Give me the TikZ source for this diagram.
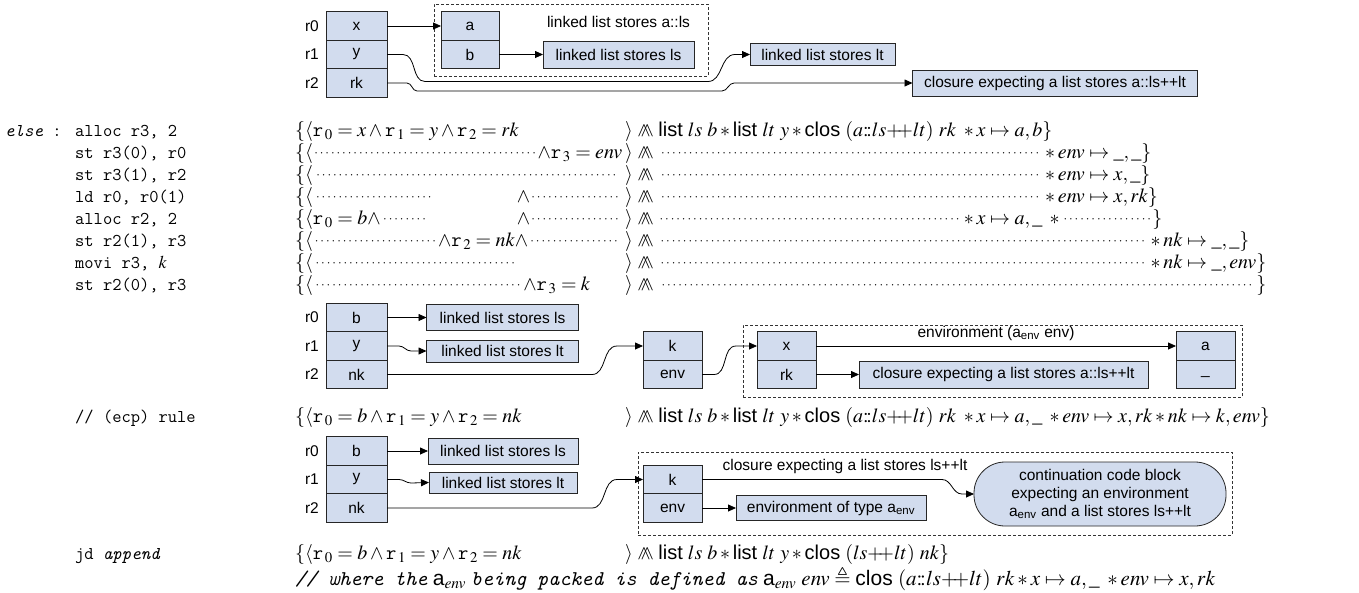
\documentclass[tikz,border=0pt]{standalone}
\usepackage{mathptmx}
\usepackage{amssymb}
\usepackage[no-math]{fontspec}
\setmainfont{Liberation Serif}
\setsansfont{Liberation Sans}
\usetikzlibrary{arrows.meta, positioning}

\definecolor{cellblue}{RGB}{210,220,238}
\newcommand\rg[1]{\mbox{\ttfamily r}\mkern1.5mu{}_{#1}}
\newcommand\dotfil{\cleaders\hbox to 5.6pt{\hss\raisebox{2pt}{\fontsize{13}{13}\selectfont$\cdot$}\hss}\hfill}
\newcommand\dotsof[1]{\mathord{\setbox0\hbox{$#1$}\hbox to\wd0{\dotfil}}}
\newcommand\sepc{\mathrel{\wedge\mkern-9mu\wedge}}
\newcommand\lst{\textsf{list}}
\newcommand\cls{\textsf{clos}}
\newcommand\cons{{:}\!{:}}
\newcommand\app{{+}\!\!{+}}
\newcommand\heap{\lst\ ls\ b \ast \lst\ lt\ y \ast \cls\ (a\cons ls\app lt)\ rk\ }

\tikzset{
  cell/.style={draw=black!85, fill=cellblue, line width=0.8pt, minimum width=61pt,
    minimum height=28.5pt, inner sep=0pt, outer sep=0pt, font=\sffamily\fontsize{15.5}{18}\selectfont},
  rlab/.style={inner sep=0pt, font=\sffamily\fontsize{15.5}{18}\selectfont},
  txt/.style={inner sep=0pt, font=\sffamily\fontsize{15.5}{18}\selectfont},
  grp/.style={draw=black!80, line width=0.8pt, dash pattern=on 3pt off 2pt, inner sep=0pt},
  conn/.style={draw, line width=0.8pt, -{Triangle[length=8pt,width=7pt]}},
  code/.style={anchor=base west, inner sep=0pt, text height=12pt, text depth=3pt, font=\ttfamily\fontsize{18}{22}\selectfont},
  asrt/.style={anchor=base west, inner sep=0pt, text height=14pt, text depth=4pt, font=\fontsize{20}{22}\selectfont}
}

\begin{document}
\begin{tikzpicture}[x=1pt, y=-1pt]
\useasboundingbox (0,0) rectangle (1359,592);

\node[grp, minimum width=274pt, minimum height=72pt] (g1) at (571,40) {};
\node[cell] (tx) at (356.5,26) {x};
\node[cell, below=0pt of tx] (ty) {y};
\node[cell, below=0pt of ty] (trk) {rk};
\node[rlab, left=7pt of tx] (tr0) {r0};
\node[rlab, left=7pt of ty] (tr1) {r1};
\node[rlab, left=7pt of trk] (tr2) {r2};
\node[cell, minimum width=58pt] (ta) at (470,26) {a};
\node[cell, minimum width=58pt, below=0pt of ta] (tb) {b};
\node[txt] (tcap) at (618.5,22) {linked list stores a::ls};
\node[cell, minimum width=151pt, minimum height=27pt] (tls) at (618.5,54.5) {linked list stores ls};
\node[cell, minimum width=145pt, minimum height=22pt] (tlt) at (822.5,54.5) {linked list stores lt};
\node[cell, minimum width=285pt, minimum height=26pt] (tclo) at (1055,83) {closure expecting a list stores a::ls++lt};

\draw[conn] (tx) -- (ta);
\draw[conn] (tb) -- (tls);
\draw[conn] (ty.east) -- ++(16,0) to[out=0,in=180] ++(22,27) -- ++(283,0) to[out=0,in=180] ++(27,-27) -- (tlt.west);
\draw[conn] (trk.east) -- ++(20,0) to[out=0,in=180] ++(10,8) -- ++(305,0) to[out=0,in=180] ++(12,-8) -- (tclo.west);

\node[code] (else) at (5,136) {\itshape else\upshape\ :};
\node[code] (c1) at (75,136) {alloc r3, 2};
\node[code] (c2) at (75,158) {st r3(0), r0};
\node[code] (c3) at (75,180) {st r3(1), r2};
\node[code] (c4) at (75,202) {ld r0, r0(1)};
\node[code] (c5) at (75,224) {alloc r2, 2};
\node[code] (c6) at (75,246) {st r2(1), r3};
\node[code] (c7) at (75,268) {movi r3, $k$};
\node[code] (c8) at (75,290) {st r2(0), r3};

\node[asrt] (p1) at (295,136) {$\{\langle \rg0 = x \wedge \rg1 = y \wedge \rg2 = rk$};
\node[asrt] (q1) at (625,136) {$\rangle\sepc\heap\ast x\mapsto a,b\}$};
\node[asrt] (p2) at (295,158) {\hbox to 330pt{$\{\langle$\dotfil$\wedge\rg3 = env$\hskip3pt}};
\node[asrt] (q2) at (625,158) {$\rangle\sepc\dotsof{\heap\ast x\mapsto a,b}\ast env\mapsto\_,\_\}$};
\node[asrt] (p3) at (295,180) {\hbox to 330pt{$\{\langle$\dotfil\hskip5pt}};
\node[asrt] (q3) at (625,180) {$\rangle\sepc\dotsof{\heap\ast x\mapsto a,b}\ast env\mapsto x,\_\}$};
\node[asrt] (p4) at (295,202) {\hbox to 330pt{$\{\langle$\hbox to 122pt{\dotfil}\hfil$\wedge$\hbox to 90pt{\dotfil}\hskip5pt}};
\node[asrt] (q4) at (625,202) {$\rangle\sepc\dotsof{\heap\ast x\mapsto a,b}\ast env\mapsto x,rk\}$};
\node[asrt] (p5) at (295,224) {\hbox to 330pt{$\{\langle\rg0 = b\wedge$\hbox to 48pt{\dotfil}\hfil$\wedge$\hbox to 90pt{\dotfil}\hskip5pt}};
\node[asrt] (q5) at (625,224) {$\rangle\sepc\dotsof{\heap}\ast x\mapsto a,\_\;\ast\dotsof{env\mapsto x,rk}\}$};
\node[asrt] (p6) at (295,246) {\hbox to 330pt{$\{\langle$\dotfil$\wedge\rg2 = nk\wedge$\hbox to 92pt{\dotfil}\hskip5pt}};
\node[asrt] (q6) at (625,246) {$\rangle\sepc\dotsof{\heap\ast x\mapsto a,b\ast env\mapsto x,rk}\ast nk\mapsto\_,\_\}$};
\node[asrt] (p7) at (295,268) {\hbox to 330pt{$\{\langle$\hbox to 205pt{\dotfil}\hfil}};
\node[asrt] (q7) at (625,268) {$\rangle\sepc\dotsof{\heap\ast x\mapsto a,b\ast env\mapsto x,rk}\ast nk\mapsto\_,env\}$};
\node[asrt] (p8) at (295,290) {\hbox to 330pt{$\{\langle$\dotfil$\wedge\rg3 = k$\hskip35pt}};
\node[asrt] (q8) at (625,290) {$\rangle\sepc\dotsof{\heap\ast x\mapsto a,b\ast env\mapsto x,rk\ast nk\mapsto\_,env}\}$};

\node[cell] (mb) at (356.5,317.5) {b};
\node[cell, below=0pt of mb] (my) {y};
\node[cell, below=0pt of my] (mnk) {nk};
\node[rlab, left=7pt of mb] (mr0) {r0};
\node[rlab, left=7pt of my] (mr1) {r1};
\node[rlab, left=7pt of mnk] (mr2) {r2};
\node[cell, minimum width=152pt, minimum height=26pt] (mls) at (502.5,317.5) {linked list stores ls};
\node[cell, minimum width=152pt, minimum height=22pt] (mlt) at (502.5,351) {linked list stores lt};
\node[cell, minimum width=59pt] (mk) at (672.5,346) {k};
\node[cell, minimum width=59pt, below=0pt of mk] (menv) {env};
\node[grp, minimum width=499pt, minimum height=72pt] (g2) at (992.5,361) {};
\node[cell, minimum width=59pt] (mx) at (786.5,346) {x};
\node[cell, minimum width=59pt, below=0pt of mx] (mrk) {rk};
\node[cell, minimum width=59pt] (ma) at (1205.5,346) {a};
\node[cell, minimum width=59pt, below=0pt of ma] (mun) {\raisebox{-4pt}{\_}};
\node[cell, minimum width=289pt, minimum height=27pt] (mclo) at (1003.5,374.5) {closure expecting a list stores a::ls++lt};

\draw[conn] (mb) -- (mls);
\draw[conn] (my.east) -- ++(12,0) to[out=0,in=180] ++(12,5) -- (mlt.west);
\draw[conn] (mnk.east) -- ++(205,0) to[out=0,in=180] ++(25,-28.5) -- (mk.west);
\draw[conn] (menv.east) -- ++(12,0) to[out=0,in=180] ++(22,-28.5) -- (mx.west);
\draw[conn] (mx) -- node[txt, above=5pt] (mlab) {environment (a\textsubscript{env} env)} (ma);
\draw[conn] (mrk) -- (mclo);

\node[code] (c9) at (75,422) {// (ecp) rule};
\node[asrt] (p9) at (295,422) {$\{\langle\rg0 = b\wedge\rg1 = y\wedge\rg2 = nk$};
\node[asrt] (q9) at (625,422) {$\rangle\sepc\heap\ast x\mapsto a,\_\;\ast env\mapsto x,rk\ast nk\mapsto k,env\}$};

\node[cell] (bb) at (356.5,451) {b};
\node[cell, below=0pt of bb] (by) {y};
\node[cell, below=0pt of by] (bnk) {nk};
\node[rlab, left=7pt of bb] (br0) {r0};
\node[rlab, left=7pt of by] (br1) {r1};
\node[rlab, left=7pt of bnk] (br2) {r2};
\node[cell, minimum width=150pt, minimum height=26pt] (bls) at (503,451) {linked list stores ls};
\node[cell, minimum width=148pt, minimum height=21pt] (blt) at (503,482.5) {linked list stores lt};
\node[grp, minimum width=594pt, minimum height=83pt] (g3) at (935,493.5) {};
\node[cell, minimum width=59pt] (bk) at (672.5,479.5) {k};
\node[cell, minimum width=59pt, below=0pt of bk] (benv) {env};
\node[cell, minimum width=190pt, minimum height=25pt] (btyp) at (831,508) {environment of type a\textsubscript{env}};
\node[cell, minimum width=252pt, minimum height=64pt, rounded corners=31pt, align=center] (bcont) at (1100,494)
  {continuation code block\\expecting an environment\\a\textsubscript{env} and a list stores ls++lt};
\node[txt] (blab) at (845,466) {closure expecting a list stores ls++lt};

\draw[conn] (bb) -- (bls);
\draw[conn] (by.east) -- ++(12,0) to[out=0,in=180] ++(12,3.5) -- (blt.west);
\draw[conn] (bnk.east) -- ++(205,0) to[out=0,in=180] ++(25,-28.5) -- (bk.west);
\draw[conn] (bk.east) -- ++(240,0) to[out=0,in=180] ++(20,14.5) -- (bcont.west);
\draw[conn] (benv) -- (btyp);

\node[code] (c10) at (75,559) {jd {\itshape append}};
\node[asrt] (p10) at (295,559) {$\{\langle\rg0 = b\wedge\rg1 = y\wedge\rg2 = nk$};
\node[asrt] (q10) at (625,559) {$\rangle\sepc\lst\ ls\ b\ast\lst\ lt\ y\ast\cls\ (ls\app lt)\ nk\}$};
\node[asrt, font=\fontsize{21}{22}\selectfont] (wh) at (295,585) {{\ttfamily\itshape // where the} \textsf{a}$_{env}$ {\ttfamily\itshape being packed is defined as} \textsf{a}$_{env}\ env\triangleq\cls\ (a\cons ls\app lt)\ rk\ast x\mapsto a,\_\;\ast env\mapsto x,rk$};
\end{tikzpicture}
\end{document}
